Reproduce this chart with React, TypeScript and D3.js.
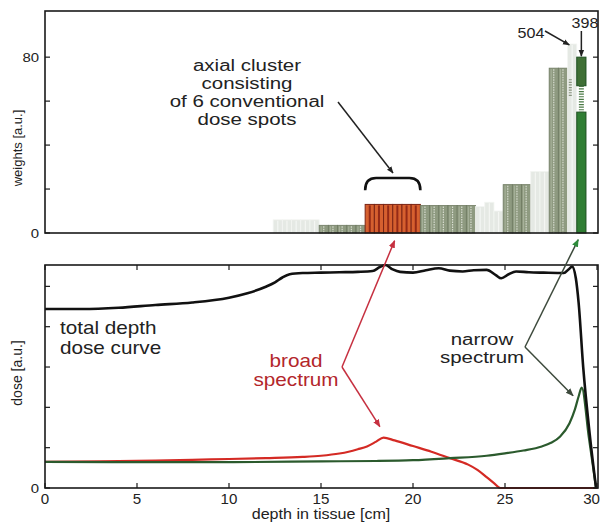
import React from "react";
import * as d3 from "d3";

// ---------- data ----------
const spotDepth = [
  12.65, 13.15, 13.65, 14.15, 14.65,
  15.15, 15.65, 16.15, 16.65, 17.15,
  17.65, 18.15, 18.65, 19.15, 19.65, 20.15,
  20.65, 21.15, 21.65, 22.15, 22.65, 23.15,
  23.65, 24.15, 24.65,
  25.15, 25.65, 26.15,
  26.65, 27.15,
  27.65, 28.15,
  28.65,
  29.15,
];
const spotWeight = [
  6, 6, 6, 6, 6,
  3.5, 3.5, 3.5, 3.5, 3.5,
  13, 13, 13, 13, 13, 13,
  12.5, 12.5, 12.5, 12.5, 12.5, 12.5,
  12, 14, 10,
  22, 22, 22,
  28, 28,
  75, 75,
  86,
  80,
];
const spotKind = [
  "faint", "faint", "faint", "faint", "faint",
  "gray", "gray", "gray", "gray", "gray",
  "broad", "broad", "broad", "broad", "broad", "broad",
  "gray", "gray", "gray", "gray", "gray", "gray",
  "faint", "faint", "faint",
  "gray", "gray", "gray",
  "faint", "faint",
  "gray", "gray",
  "faint",
  "narrow",
];
// break in the narrow-spectrum bar (weight range hidden)
const narrowBreak = [55, 67];
const fadedBreak = [62, 70];

const totalX = [0, 2, 4, 6, 8, 10, 11, 12, 12.5, 12.9, 13.3, 14, 15, 16, 17, 17.8, 18.2, 18.5, 18.9, 19.3, 20, 20.7, 21.4, 22, 22.7, 23.3, 24, 24.5, 24.8, 25.2, 25.6, 26.3, 27.1, 28.2, 28.45, 28.65, 28.85, 29.0, 29.25, 29.6, 29.95];
const totalDose = [4.44, 4.44, 4.47, 4.54, 4.6, 4.72, 4.83, 4.99, 5.1, 5.22, 5.3, 5.33, 5.34, 5.35, 5.36, 5.38, 5.48, 5.53, 5.42, 5.36, 5.34, 5.4, 5.45, 5.39, 5.37, 5.4, 5.41, 5.28, 5.2, 5.3, 5.37, 5.35, 5.34, 5.33, 5.42, 5.49, 5.2, 4.6, 3.0, 1.35, 0];

const broadX = [0, 3, 6, 9, 12, 14, 15, 16, 16.5, 17, 17.5, 18, 18.4, 19, 20, 21, 22, 23, 23.5, 24, 24.4, 24.75, 27, 30];
const broadDose = [0.65, 0.66, 0.68, 0.71, 0.74, 0.77, 0.8, 0.855, 0.9, 0.96, 1.03, 1.15, 1.25, 1.18, 1.04, 0.9, 0.74, 0.58, 0.45, 0.27, 0.12, 0, 0, 0];

const narrowX = [0, 5, 10, 15, 18, 20, 22, 24, 25, 26, 27, 27.5, 28, 28.5, 28.8, 29.0, 29.17, 29.56, 29.95];
const narrowDose = [0.65, 0.64, 0.64, 0.66, 0.67, 0.69, 0.74, 0.8, 0.86, 0.93, 1.03, 1.12, 1.28, 1.6, 1.95, 2.27, 2.49, 1.245, 0];

const depthTicks = [0, 5, 10, 15, 20, 25, 30];
const weightTicks = [0, 20, 40, 60, 80];
const weightTickLabels = ["0", "", "", "", "80"];
const doseTicks = [0, 1, 2, 3, 4, 5];
const doseTickLabels = ["0", "", "", "", "", ""];

const clusterNote = ["axial cluster", "consisting", "of 6 conventional", "dose spots"];
const totalNote = ["total depth", "dose curve"];
const broadNote = ["broad", "spectrum"];
const narrowNote = ["narrow", "spectrum"];

// ---------- layout ----------
const W = 601, H = 525;
const L = 45, R = 598;
const topT = 11, topB = 233;
const botT = 265, botB = 488;

const xS = d3.scaleLinear().domain([0, 30]).range([45, 597]);
const yW = d3.scaleLinear().domain([0, 101]).range([topB, topT]);
const yD = d3.scaleLinear().domain([0, 5.53]).range([botB, botT]);

const FONT = "'Liberation Sans', Arial, Helvetica, sans-serif";

function T({ x, y, size, anchor = "middle", fill = "#222", sx = 1.15, children }: any) {
  return (
    <text
      transform={`translate(${x},${y}) scale(${sx},1)`}
      fontSize={size}
      textAnchor={anchor}
      fill={fill}
      fontFamily={FONT}
    >
      {children}
    </text>
  );
}

function Multi({ x, y, lines, lh, size, anchor = "middle", fill = "#222", sx = 1.15 }: any) {
  return (
    <text
      transform={`translate(${x},${y}) scale(${sx},1)`}
      fontSize={size}
      textAnchor={anchor}
      fill={fill}
      fontFamily={FONT}
    >
      {lines.map((s: string, i: number) => (
        <tspan key={i} x={0} y={i * lh}>
          {s}
        </tspan>
      ))}
    </text>
  );
}

function Bar({ d, w, kind }: any) {
  const x0 = xS(d - 0.25);
  const x1 = xS(d + 0.25);
  const bw = x1 - x0;
  const y0 = yW(w);
  const h = topB - y0;
  const cx = (x0 + x1) / 2;
  if (kind === "faint") {
    return (
      <g>
        <rect x={x0} y={y0} width={bw} height={h} fill="#e5e9e4" stroke="#f3f5f2" strokeWidth={0.8} />
        <line x1={cx} x2={cx} y1={y0 + 1} y2={topB} stroke="#f4f6f3" strokeWidth={1.2} />
      </g>
    );
  }
  if (kind === "gray") {
    return (
      <g>
        <rect x={x0} y={y0} width={bw} height={h} fill="#8e9a80" stroke="#6f7b62" strokeWidth={0.8} />
        <line x1={cx} x2={cx} y1={y0 + 1} y2={topB} stroke="#d7dccf" strokeWidth={1.2} strokeDasharray="1.5,1" />
        <line x1={x0 + 2} x2={x0 + 2} y1={y0 + 1} y2={topB} stroke="#a9b39c" strokeWidth={1} />
      </g>
    );
  }
  if (kind === "broad") {
    return (
      <g>
        <rect x={x0} y={y0} width={bw} height={h} fill="#d6602f" stroke="#7a2414" strokeWidth={1} />
        <line x1={cx} x2={cx} y1={y0 + 1} y2={topB} stroke="#952a16" strokeWidth={2} />
      </g>
    );
  }
  // narrow: broken bar
  const yb0 = yW(narrowBreak[0]);
  const yb1 = yW(narrowBreak[1]);
  return (
    <g>
      <rect x={x0} y={yb0} width={bw} height={topB - yb0} fill="#2f7d33" stroke="#1d4f20" strokeWidth={1} />
      <rect x={x0} y={y0} width={bw} height={yb1 - y0} fill="#3f6f35" stroke="#1d4f20" strokeWidth={1} />
      <line x1={cx} x2={cx} y1={yb1} y2={yb0} stroke="#4b7a45" strokeWidth={5} strokeDasharray="1.2,1.4" />
    </g>
  );
}

export default function App() {
  const lineGen = (xs: number[], ys: number[]) =>
    d3
      .line<number>()
      .x((_, i) => xS(xs[i]))
      .y((v) => yD(v))
      .curve(d3.curveMonotoneX)(ys) || "";

  const fadedIdx = spotKind.length - 2;
  const fx = xS(spotDepth[fadedIdx] - 0.1);

  return (
    <svg width={W} height={H} style={{ display: "block", position: "absolute", left: 0, top: 0, background: "#fff" }}>
      <defs>
        <marker id="ah-black" viewBox="0 0 10 10" refX="9" refY="5" markerWidth="7" markerHeight="7" orient="auto" markerUnits="userSpaceOnUse">
          <path d="M0,1 L10,5 L0,9 Z" fill="#222" />
        </marker>
        <marker id="ah-red" viewBox="0 0 10 10" refX="9" refY="5" markerWidth="8" markerHeight="8" orient="auto" markerUnits="userSpaceOnUse">
          <path d="M0,1 L10,5 L0,9 Z" fill="#c63040" />
        </marker>
        <marker id="ah-gray" viewBox="0 0 10 10" refX="9" refY="5" markerWidth="8" markerHeight="8" orient="auto" markerUnits="userSpaceOnUse">
          <path d="M0,1 L10,5 L0,9 Z" fill="#3d4a3c" />
        </marker>
        <marker id="ah-green" viewBox="0 0 10 10" refX="9" refY="5" markerWidth="8" markerHeight="8" orient="auto" markerUnits="userSpaceOnUse">
          <path d="M0,1 L10,5 L0,9 Z" fill="#2d8a3a" />
        </marker>
      </defs>

      {/* ---------- top panel ---------- */}
      {spotDepth.map((d, i) => (
        <Bar key={i} d={d} w={spotWeight[i]} kind={spotKind[i]} />
      ))}
      <line x1={fx} x2={fx} y1={yW(fadedBreak[1])} y2={yW(fadedBreak[0])} stroke="#8a9480" strokeWidth={3} strokeDasharray="1.2,1.4" />
      <rect x={L} y={topT} width={R - L} height={topB - topT} fill="none" stroke="#1a1a1a" strokeWidth={1.6} />
      {weightTicks.map((t, i) => (
        <g key={i}>
          <line x1={L} x2={L + 5} y1={yW(t)} y2={yW(t)} stroke="#1a1a1a" strokeWidth={1.2} />
          <line x1={R - 5} x2={R} y1={yW(t)} y2={yW(t)} stroke="#1a1a1a" strokeWidth={1.2} />
          {weightTickLabels[i] && (
            <T x={39} y={yW(t) + 5} size={13} anchor="end">{weightTickLabels[i]}</T>
          )}
        </g>
      ))}
      <text transform={`translate(22,${(topT + topB) / 2 + 26}) rotate(-90)`} fontSize={13} textAnchor="middle" fill="#222" fontFamily={FONT}>
        weights [a.u.]
      </text>

      {/* annotation: axial cluster */}
      <Multi x={247} y={70.5} lines={clusterNote} lh={18.3} size={16} sx={1.28} />
      <line x1={338} y1={102} x2={393} y2={173} stroke="#222" strokeWidth={1.5} markerEnd="url(#ah-black)" />
      <path
        d={`M${xS(17.4)},${yW(19.5)} Q${xS(17.4)},${yW(25)} ${xS(17.4) + 11},${yW(25)} L${xS(20.4) - 11},${yW(25)} Q${xS(20.4)},${yW(25)} ${xS(20.4)},${yW(19.5)}`}
        fill="none"
        stroke="#111"
        strokeWidth={2.6}
      />
      <T x={531} y={38} size={14}>504</T>
      <line x1={545} y1={31} x2={fx - 1} y2={yW(86) + 1} stroke="#222" strokeWidth={1.5} markerEnd="url(#ah-black)" />
      <T x={585} y={28} size={14}>398</T>
      <line x1={xS(29.15)} y1={31} x2={xS(29.15)} y2={yW(80) - 1} stroke="#222" strokeWidth={1.5} markerEnd="url(#ah-black)" />

      {/* ---------- bottom panel ---------- */}
      <path d={lineGen(broadX, broadDose)} fill="none" stroke="#d42a24" strokeWidth={2.2} />
      <path d={lineGen(narrowX, narrowDose)} fill="none" stroke="#2b5a2d" strokeWidth={2.2} />
      <path d={lineGen(totalX, totalDose)} fill="none" stroke="#111" strokeWidth={2.6} />

      <rect x={L} y={botT} width={R - L} height={botB - botT} fill="none" stroke="#1a1a1a" strokeWidth={1.6} />
      {depthTicks.map((t, i) => (
        <g key={i}>
          <line x1={xS(t)} x2={xS(t)} y1={botB} y2={botB - 5} stroke="#1a1a1a" strokeWidth={1.2} />
          <line x1={xS(t)} x2={xS(t)} y1={botT} y2={botT + 5} stroke="#1a1a1a" strokeWidth={1.2} />
          <T
            x={i === depthTicks.length - 1 ? 600 : xS(t)}
            y={504}
            size={14}
            sx={1.08}
            anchor={i === depthTicks.length - 1 ? "end" : "middle"}
          >
            {String(t)}
          </T>
        </g>
      ))}
      {doseTicks.map((t, i) => (
        <g key={i}>
          <line x1={L} x2={L + 5} y1={yD(t)} y2={yD(t)} stroke="#1a1a1a" strokeWidth={1.2} />
          <line x1={R - 5} x2={R} y1={yD(t)} y2={yD(t)} stroke="#1a1a1a" strokeWidth={1.2} />
          {doseTickLabels[i] && (
            <T x={39} y={yD(t) + 5} size={13} anchor="end">{doseTickLabels[i]}</T>
          )}
        </g>
      ))}
      <text transform={`translate(22,373) rotate(-90)`} fontSize={14} textAnchor="middle" fill="#222" fontFamily={FONT}>
        dose [a.u.]
      </text>
      <T x={321} y={519} size={14}>depth in tissue [cm]</T>

      {/* annotations */}
      <Multi x={60} y={334} lines={totalNote} lh={20} size={18} anchor="start" />

      <Multi x={296} y={367} lines={broadNote} lh={19} size={18} fill="#b3262b" />
      <line x1={342} y1={367} x2={xS(19.0)} y2={yW(-3.5)} stroke="#c63040" strokeWidth={1.5} markerEnd="url(#ah-red)" />
      <line x1={342} y1={367} x2={xS(18.2)} y2={yD(1.52)} stroke="#c63040" strokeWidth={1.5} markerEnd="url(#ah-red)" />

      <Multi x={482} y={345} lines={narrowNote} lh={18.5} size={16} sx={1.28} />
      <line x1={525} y1={347} x2={xS(28.98)} y2={yW(-3)} stroke="#3d4a3c" strokeWidth={1.5} markerEnd="url(#ah-green)" />
      <line x1={525} y1={347} x2={xS(28.7)} y2={yD(2.29)} stroke="#3d4a3c" strokeWidth={1.5} markerEnd="url(#ah-gray)" />
    </svg>
  );
}
